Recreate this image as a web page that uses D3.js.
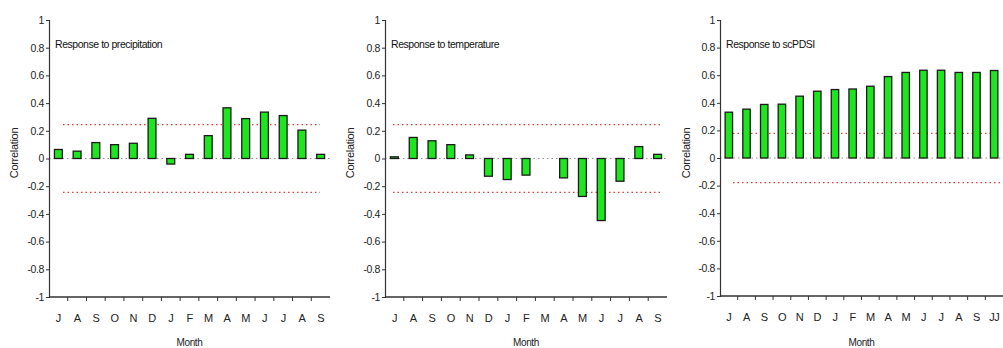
<!DOCTYPE html>
<html><head><meta charset="utf-8">
<script src="https://cdn.jsdelivr.net/npm/d3@7"></script>
<style>
body{margin:0;background:#fff;}
svg{display:block;font-family:'Liberation Sans Narrow','Arial Narrow','Liberation Sans',sans-serif;}
</style></head>
<body><svg id="c" width="1003" height="348"></svg>
<script>
const months = ["J","A","S","O","N","D","J","F","M","A","M","J","J","A","S"];
const months3 = ["J","A","S","O","N","D","J","F","M","A","M","J","J","A","S","JJ"];
const precip = [0.065,0.053,0.115,0.10,0.11,0.29,-0.04,0.03,0.165,0.366,0.288,0.335,0.31,0.205,0.03];
const temp = [0.012,0.152,0.128,0.10,0.026,-0.128,-0.152,-0.12,0,-0.14,-0.274,-0.448,-0.164,0.086,0.03];
const scpdsi = [0.332,0.354,0.388,0.39,0.448,0.484,0.496,0.50,0.52,0.59,0.62,0.636,0.636,0.62,0.62,0.634];
const titles = ["Response to precipitation","Response to temperature","Response to scPDSI"];
const sigLevels = [0.245,0.245,0.178];
const yTicks = [1,0.8,0.6,0.4,0.2,0,-0.2,-0.4,-0.6,-0.8,-1];

const svg = d3.select("#c");
const panels = [
  {cats:months, vals:precip, x0:49, x1:330, yTop:20, yBot:297, title:titles[0], sig:sigLevels[0], ylabX:14, lineL:[63,320], lineR:[63,320]},
  {cats:months, vals:temp, x0:385, x1:667, yTop:20, yBot:297, title:titles[1], sig:sigLevels[1], ylabX:350, lineL:[393,663], lineR:[393,663]},
  {cats:months3, vals:scpdsi, x0:720, x1:1003, yTop:20, yBot:296, title:titles[2], sig:sigLevels[2], ylabX:686, lineL:[733,1003], lineR:[733,993]}
];

panels.forEach(p => {
  const g = svg.append("g");
  const idx = p.cats.map((d,i)=>i);
  const x = d3.scaleBand().domain(idx).range([p.x0, p.x1]).paddingInner(0.58).paddingOuter(0.29);
  const xb = d3.scaleBand().domain(idx).range([p.x0, p.x1]);
  const y = d3.scaleLinear().domain([-1,1]).range([p.yBot, p.yTop]);

  g.append("line").attr("x1",p.x0).attr("x2",p.x1).attr("y1",y(0)).attr("y2",y(0))
    .attr("stroke","#9a8a8a").attr("stroke-width",1).attr("stroke-dasharray","1.5,3");

  g.append("line").attr("x1",p.lineR[0]).attr("x2",p.lineR[1]).attr("y1",y(p.sig)).attr("y2",y(p.sig))
    .attr("stroke","#e0403a").attr("stroke-width",1.2).attr("stroke-dasharray","1.5,3");
  g.append("line").attr("x1",p.lineL[0]).attr("x2",p.lineL[1]).attr("y1",y(-p.sig)).attr("y2",y(-p.sig))
    .attr("stroke","#e0403a").attr("stroke-width",1.2).attr("stroke-dasharray","1.5,3");

  g.selectAll("rect.bar").data(p.vals).enter().append("rect")
    .attr("x",(d,i)=>x(i)).attr("width",x.bandwidth())
    .attr("y",d=>y(Math.max(0,d))).attr("height",d=>Math.max(0.8,Math.abs(y(d)-y(0))))
    .attr("fill",d=>d===0?"none":"#1ee61e").attr("stroke",d=>d===0?"none":"#1a1a1a").attr("stroke-width",1.3);

  const ya = d3.axisLeft(y).tickValues(yTicks).tickSize(3).tickPadding(2).tickFormat(d=>String(d));
  const yg = g.append("g").attr("transform",`translate(${p.x0},0)`).call(ya);
  yg.select(".domain").attr("stroke","#333").attr("stroke-width",1.2);
  yg.selectAll(".tick line").attr("stroke","#333");
  yg.selectAll("text").attr("font-size",10.5).attr("letter-spacing","-0.4px").attr("fill","#222");

  const xg = g.append("g").attr("transform",`translate(0,${p.yBot})`);
  xg.append("line").attr("x1",p.x0).attr("x2",p.x1).attr("stroke","#333").attr("stroke-width",1.5);
  xg.selectAll("line.t").data(idx.slice(1)).enter().append("line")
    .attr("x1",i=>xb(i)).attr("x2",i=>xb(i)).attr("y1",0).attr("y2",4).attr("stroke","#333");
  xg.selectAll("text").data(p.cats).enter().append("text")
    .attr("x",(d,i)=>xb(i)+xb.bandwidth()/2).attr("y",25)
    .attr("text-anchor","middle").attr("font-size",11).attr("letter-spacing","-0.5px").attr("fill","#222").text(d=>d);

  g.append("text").attr("x",(p.x0+p.x1)/2).attr("y",346).attr("text-anchor","middle")
    .attr("font-size",10).attr("letter-spacing","-0.4px").attr("fill","#222").text("Month");
  g.append("text").attr("transform",`translate(${p.ylabX+4},${153}) rotate(-90)`)
    .attr("text-anchor","middle").attr("font-size",11).attr("letter-spacing","-0.3px").attr("fill","#222").text("Correlation");

  g.append("text").attr("x",p.x0+6).attr("y",48).attr("font-size",10.5).attr("letter-spacing","-0.45px").attr("fill","#111").text(p.title);
});
</script></body></html>
